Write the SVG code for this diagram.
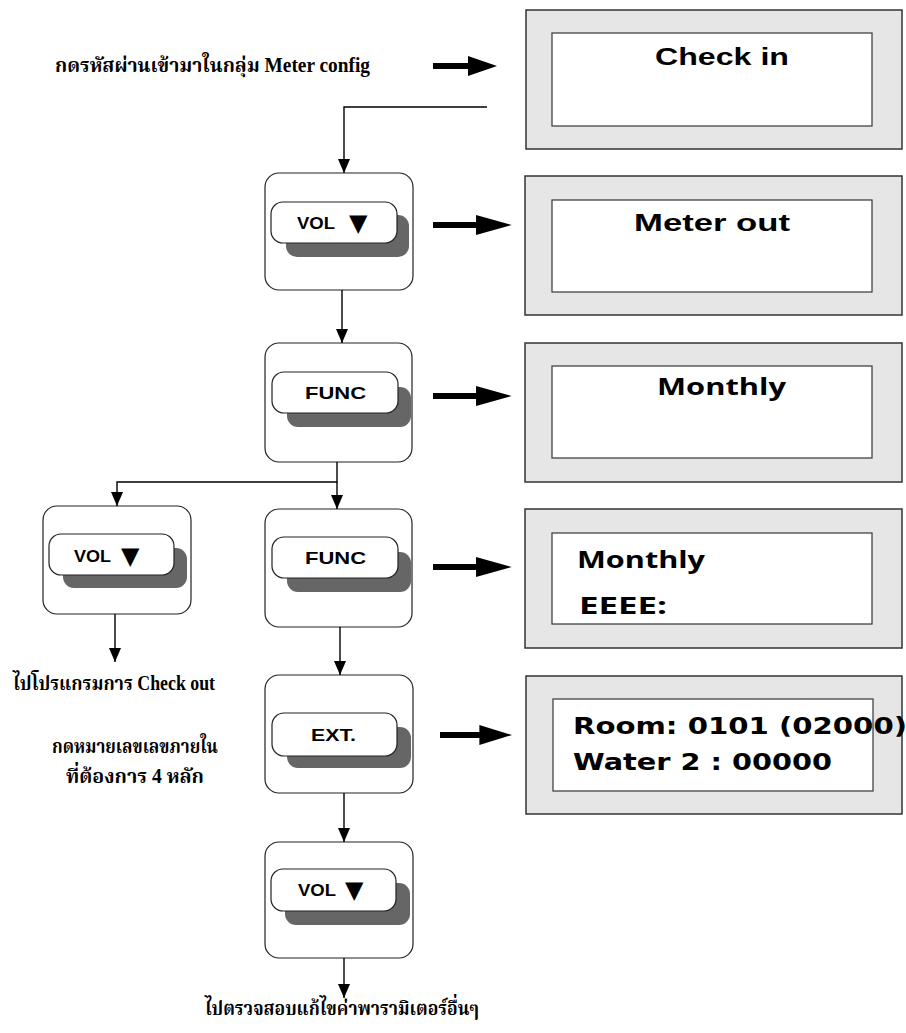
<svg xmlns="http://www.w3.org/2000/svg" width="906" height="1033" viewBox="0 0 906 1033">
<style>
.lcdo{fill:#e6e6e6;stroke:#333;stroke-width:1.5}
.lcdi{fill:#fff;stroke:#444;stroke-width:1.3}
.node{fill:#fff;stroke:#222;stroke-width:1.2}
.shadow{fill:#666}
.btn{fill:#fff;stroke:#222;stroke-width:1.2}
.bt{font-family:'Liberation Sans',Arial,sans-serif;font-weight:bold;font-size:17px;fill:#000}
.tri{font-family:'DejaVu Sans',sans-serif;font-size:24px;fill:#000}
.lt{font-family:'Liberation Sans',Arial,sans-serif;font-weight:bold;font-size:23px;fill:#000}
.lo{font-family:'Open Sans','Liberation Sans',sans-serif;font-weight:bold;font-size:23px;fill:#000}
.lv{font-family:'DejaVu Sans','Liberation Sans',sans-serif;font-weight:bold;font-size:23px;fill:#000}
.th{font-family:'Liberation Serif','Noto Serif Thai','Noto Sans Thai','Tlwg Typo',serif;font-weight:bold;font-size:20px;fill:#000}
.conn{stroke:#000;stroke-width:1.4;fill:none}
.thick{fill:#000}
</style>
<defs>
<marker id="ah" markerUnits="userSpaceOnUse" markerWidth="14" markerHeight="12" refX="14" refY="6" orient="auto">
<path d="M0,0 L14,6 L0,12 Z" fill="#000"/>
</marker>
<path id="bigarrow" d="M0,-3 L35,-3 L35,-10 L64,0 L35,10 L35,3 L0,3 Z"/>
</defs>

<g id="label-top"><text class="th" x="55" y="72" textLength="315" lengthAdjust="spacingAndGlyphs">กดรหัสผ่านเข้ามาในกลุ่ม Meter config</text></g>
<g id="label-checkout"><text class="th" x="13" y="690" textLength="202" lengthAdjust="spacingAndGlyphs">ไปโปรแกรมการ Check out</text></g>
<g id="label-dial">
<text class="th" x="52" y="753" textLength="166" lengthAdjust="spacingAndGlyphs">กดหมายเลขเลขภายใน</text>
<text class="th" x="66" y="783" textLength="138" lengthAdjust="spacingAndGlyphs">ที่ต้องการ 4 หลัก</text>
</g>
<g id="label-bottom"><text class="th" x="205" y="1015" textLength="274" lengthAdjust="spacingAndGlyphs">ไปตรวจสอบแก้ไขค่าพารามิเตอร์อื่นๆ</text></g>

<g id="lcd1"><rect class="lcdo" x="526" y="10" width="376" height="139"/><rect class="lcdi" x="552" y="33" width="320" height="93"/>
<text class="lt" x="655" y="65" textLength="134" lengthAdjust="spacingAndGlyphs">Check in</text></g>
<g id="lcd2"><rect class="lcdo" x="525" y="176" width="377" height="139"/><rect class="lcdi" x="552" y="200" width="320" height="92"/>
<text class="lt" x="634" y="231" textLength="156" lengthAdjust="spacingAndGlyphs">Meter out</text></g>
<g id="lcd3"><rect class="lcdo" x="525" y="343" width="377" height="139"/><rect class="lcdi" x="552" y="366" width="320" height="92"/>
<text class="lo" x="657" y="395" textLength="129" lengthAdjust="spacingAndGlyphs">Monthly</text></g>
<g id="lcd4"><rect class="lcdo" x="525" y="509" width="377" height="139"/><rect class="lcdi" x="552" y="533" width="320" height="91"/>
<text class="lo" x="577" y="568" textLength="128" lengthAdjust="spacingAndGlyphs">Monthly</text>
<text class="lo" x="579" y="614" textLength="88" lengthAdjust="spacingAndGlyphs">EEEE:</text></g>
<g id="lcd5"><rect class="lcdo" x="526" y="676" width="376" height="138"/><rect class="lcdi" x="553" y="699" width="320" height="92"/>
<text class="lv" x="573" y="734" textLength="334" lengthAdjust="spacingAndGlyphs">Room: 0101 (02000)</text>
<text class="lv" x="573" y="770" textLength="259" lengthAdjust="spacingAndGlyphs">Water 2 : 00000</text></g>

<g id="n1-vol"><rect class="node" x="265" y="173" width="148" height="117" rx="14"/>
<rect class="shadow" x="286" y="215" width="123" height="42" rx="11"/><rect class="btn" x="271" y="202" width="126" height="41" rx="12"/>
<text class="bt" x="297" y="229" textLength="38" lengthAdjust="spacingAndGlyphs">VOL</text><text class="tri" x="349" y="231">▼</text></g>
<g id="n2-func"><rect class="node" x="265" y="343" width="147" height="119" rx="14"/>
<rect class="shadow" x="287" y="387" width="124" height="40" rx="11"/><rect class="btn" x="272" y="372" width="126" height="41" rx="12"/>
<text class="bt" x="305" y="399" textLength="61" lengthAdjust="spacingAndGlyphs">FUNC</text></g>
<g id="n3-vol"><rect class="node" x="43" y="506" width="148" height="108" rx="14"/>
<rect class="shadow" x="63" y="548" width="124" height="40" rx="11"/><rect class="btn" x="49" y="534" width="125" height="41" rx="12"/>
<text class="bt" x="74" y="562" textLength="37" lengthAdjust="spacingAndGlyphs">VOL</text><text class="tri" x="121" y="564">▼</text></g>
<g id="n4-func"><rect class="node" x="265" y="509" width="147" height="118" rx="14"/>
<rect class="shadow" x="287" y="552" width="124" height="40" rx="11"/><rect class="btn" x="272" y="537" width="126" height="41" rx="12"/>
<text class="bt" x="305" y="564" textLength="61" lengthAdjust="spacingAndGlyphs">FUNC</text></g>
<g id="n5-ext"><rect class="node" x="265" y="675" width="148" height="118" rx="14"/>
<rect class="shadow" x="287" y="727" width="124" height="41" rx="11"/><rect class="btn" x="272" y="713" width="125" height="43" rx="12"/>
<text class="bt" x="311" y="741" textLength="45" lengthAdjust="spacingAndGlyphs">EXT.</text></g>
<g id="n6-vol"><rect class="node" x="265" y="842" width="148" height="116" rx="14"/>
<rect class="shadow" x="285" y="883" width="125" height="42" rx="11"/><rect class="btn" x="271" y="869" width="125" height="42" rx="12"/>
<text class="bt" x="298" y="896" textLength="38" lengthAdjust="spacingAndGlyphs">VOL</text><text class="tri" x="345" y="898">▼</text></g>

<g id="connectors">
<polyline class="conn" points="487,107 344,107 344,173" marker-end="url(#ah)"/>
<line class="conn" x1="342" y1="290" x2="342" y2="343" marker-end="url(#ah)"/>
<polyline class="conn" points="337,462 337,482 117,482 117,506" marker-end="url(#ah)"/>
<line class="conn" x1="337" y1="482" x2="337" y2="509" marker-end="url(#ah)"/>
<line class="conn" x1="115" y1="614" x2="115" y2="662" marker-end="url(#ah)"/>
<line class="conn" x1="340" y1="627" x2="340" y2="675" marker-end="url(#ah)"/>
<line class="conn" x1="344" y1="793" x2="344" y2="842" marker-end="url(#ah)"/>
<line class="conn" x1="344" y1="958" x2="344" y2="998" marker-end="url(#ah)"/>
<use href="#bigarrow" class="thick" x="433" y="66"/>
<use href="#bigarrow" class="thick" transform="translate(433,225) scale(1.23,1)"/>
<use href="#bigarrow" class="thick" transform="translate(433,396) scale(1.23,1)"/>
<use href="#bigarrow" class="thick" transform="translate(433,567) scale(1.23,1)"/>
<use href="#bigarrow" class="thick" transform="translate(440,735) scale(1.125,1)"/>
</g>
</svg>
